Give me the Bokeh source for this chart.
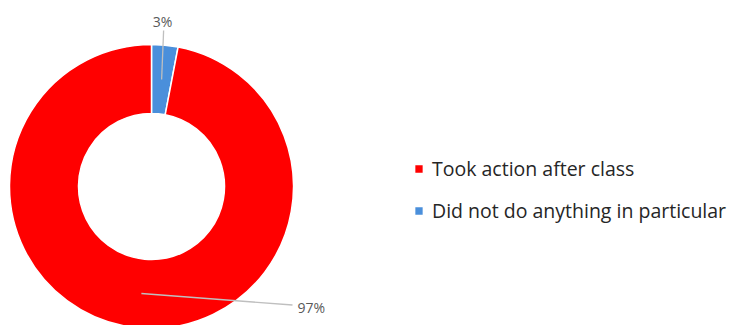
import math
from bokeh.plotting import figure
from bokeh.models import Range1d, ColumnDataSource, Legend, LegendItem
from bokeh.core.properties import value
from bokeh.embed import file_html
from bokeh.resources import INLINE

categories = ["Did not do anything in particular", "Took action after class"]
shares = [3, 97]
colors = ["#4A8FDB", "#FF0000"]
pct_labels = ["3%", "97%"]
legend_order = ["Took action after class", "Did not do anything in particular"]

W, H = 731, 325
p = figure(width=W, height=H, output_backend="svg", toolbar_location=None,
           x_range=Range1d(0, W), y_range=Range1d(0, H),
           min_border=0, outline_line_color=None)
p.axis.visible = False
p.grid.visible = False
p.background_fill_color = "white"

cx, cy = 151, 139
r_in, r_out = 73, 142

total = sum(shares)
starts, ends, mids = [], [], []
acc = 0.0
for s in shares:
    a0 = math.pi / 2 - 2 * math.pi * acc / total
    a1 = math.pi / 2 - 2 * math.pi * (acc + s) / total
    starts.append(a0)
    ends.append(a1)
    mids.append((a0 + a1) / 2)
    acc += s

src = ColumnDataSource(dict(x=[cx] * len(shares), y=[cy] * len(shares),
                            start=starts, end=ends, color=colors, cat=categories))
wedges = p.annular_wedge(x="x", y="y", inner_radius=r_in, outer_radius=r_out,
                         start_angle="start", end_angle="end", direction="clock",
                         fill_color="color", line_color="white", line_width=1.5,
                         source=src)

# leader lines and data labels
r_mid = (r_in + r_out) / 2
label_pos = [(162, 304.5), (297, 18.5)]
for i, m in enumerate(mids):
    px = cx + r_mid * math.cos(m)
    py = cy + r_mid * math.sin(m)
    lx, ly = label_pos[i]
    if i == 0:
        p.line([px, px + 2], [py, ly - 9.5], line_color="#BFBFBF", line_width=1.3)
        p.text([lx], [ly], text=[pct_labels[i]], text_font=value("Open Sans"),
               text_font_size="14px", text_color="#595959",
               text_align="center", text_baseline="middle")
    else:
        p.line([px, lx - 5], [py, ly + 2], line_color="#BFBFBF", line_width=1.3)
        p.text([lx], [ly], text=[pct_labels[i]], text_font=value("Open Sans"),
               text_font_size="14px", text_color="#595959",
               text_align="left", text_baseline="middle")

# legend
items = []
for name in legend_order:
    idx = categories.index(name)
    items.append(LegendItem(label=name, renderers=[wedges], index=idx))
legend = Legend(items=items, location=(413, 101), orientation="vertical",
                glyph_width=11, glyph_height=11, label_standoff=8,
                label_text_font="Open Sans", label_text_font_size="19.5px",
                label_text_color="#262626", spacing=15, padding=0, margin=0,
                border_line_alpha=0, background_fill_alpha=0)
p.add_layout(legend, "center")

open("out.html", "w").write(file_html(p, INLINE))
